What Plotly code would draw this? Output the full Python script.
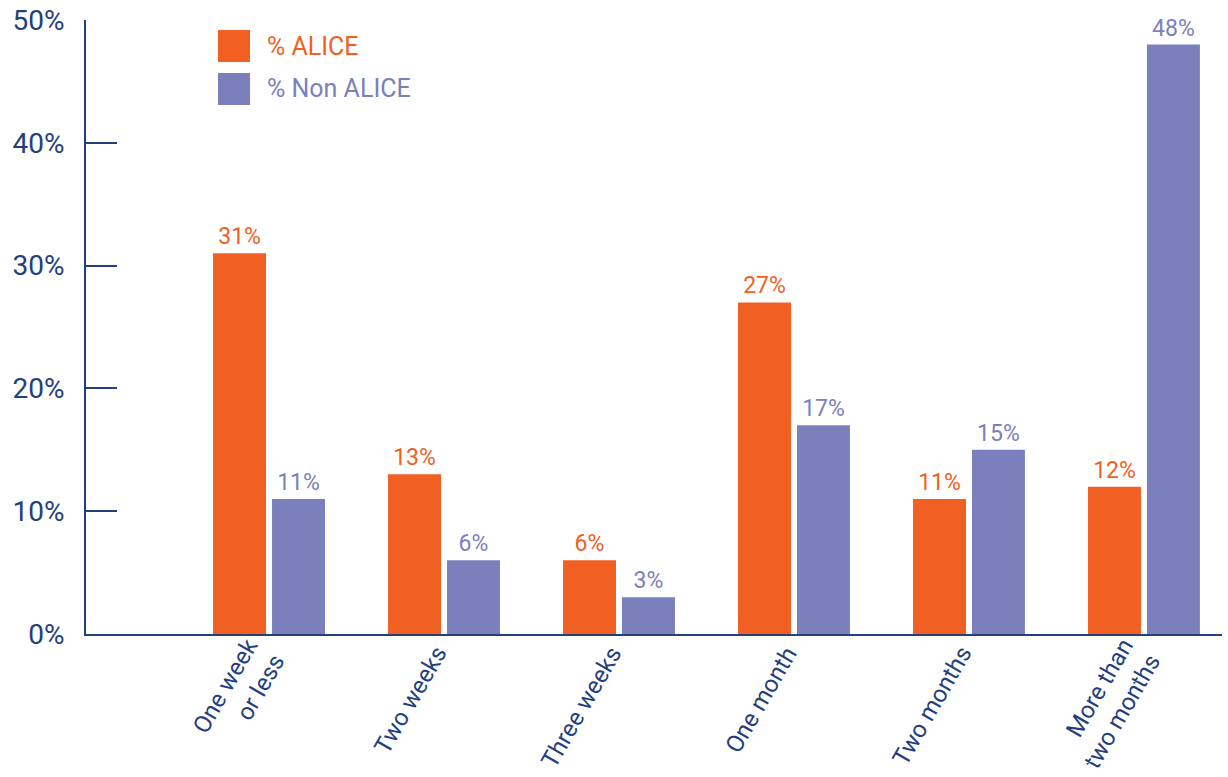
import plotly.graph_objects as go

categories = ["One week<br>or less", "Two weeks", "Three weeks", "One month", "Two months", "More than<br>two months"]
series_names = ["% ALICE", "% Non ALICE"]
alice = [31, 13, 6, 27, 11, 12]
non_alice = [11, 6, 3, 17, 15, 48]
y_ticks = [0, 10, 20, 30, 40, 50]
y_tick_labels = ["0%", "10%", "20%", "30%", "40%", "50%"]

ORANGE = "#F15F22"
PURPLE = "#7B80BD"
NAVY = "#233F7E"
FONT = "Roboto"

fig = go.Figure()
for name, vals, col in [(series_names[0], alice, ORANGE), (series_names[1], non_alice, PURPLE)]:
    fig.add_trace(go.Bar(
        x=categories, y=vals, name=name,
        marker=dict(color=col, line=dict(width=0)),
        text=[f"{v}%" for v in vals],
        textposition="outside",
        textfont=dict(family=FONT, size=23, color=col),
        cliponaxis=False,
        showlegend=False,
    ))

fig.update_layout(
    width=1228, height=777,
    margin=dict(l=86, r=6, t=20, b=143),
    paper_bgcolor="white", plot_bgcolor="white",
    barmode="group", bargap=0.326, bargroupgap=0.1017,
    font=dict(family=FONT, color=NAVY),
    xaxis=dict(
        type="category", range=[-1.046, 5.446], automargin=False,
        showline=True, linecolor=NAVY, linewidth=2,
        showgrid=False, ticks="", showticklabels=False,
        zeroline=False,
    ),
    yaxis=dict(
        range=[0, 50], tickvals=y_ticks, ticktext=y_tick_labels, automargin=False,
        showline=True, linecolor=NAVY, linewidth=2,
        ticks="inside", ticklen=31, tickwidth=2, tickcolor=NAVY,
        showgrid=False, zeroline=False,
        tickfont=dict(family=FONT, size=28, color=NAVY),
        ticklabelstandoff=14,
    ),
)

# Rotated category labels (right-aligned, block end centred under each category)
LABEL_SIZE = 24
LINE_H = 31
for cat in categories:
    n = cat.count("<br>") + 1
    h = LINE_H * n + 2
    fig.add_annotation(
        x=cat, xref="x", y=0, yref="paper",
        text=cat, showarrow=False, textangle=-60, align="right",
        xanchor="right", yanchor="top",
        xshift=0.433 * h - 3, yshift=-(13 - 0.25 * h),
        font=dict(family=FONT, size=LABEL_SIZE, color=NAVY),
    )

# Legend drawn as swatches + labels (paper coordinates)
legend_rows = [(series_names[0], ORANGE, 0.9837, 0.9316), (series_names[1], PURPLE, 0.9137, 0.8616)]
for name, col, y_top, y_bot in legend_rows:
    fig.add_shape(type="rect", xref="paper", yref="paper",
                  x0=0.1162, x1=0.1444, y0=y_bot, y1=y_top,
                  fillcolor=col, line=dict(width=0))
    fig.add_annotation(xref="paper", yref="paper", x=0.1576, y=(y_top + y_bot) / 2,
                       xanchor="left", yanchor="middle", showarrow=False,
                       text=name, font=dict(family=FONT, size=25, color=col))

fig.write_html("out.html", config={"displayModeBar": False},
               post_script="document.body.style.margin='0px';document.body.style.overflow='hidden';")
